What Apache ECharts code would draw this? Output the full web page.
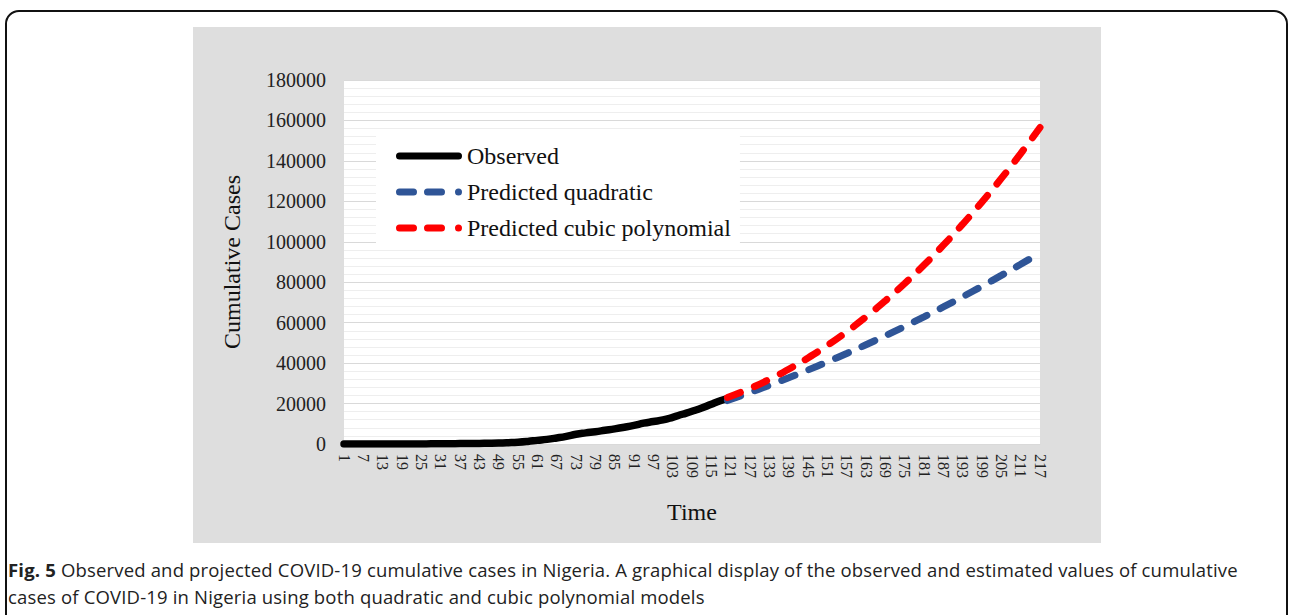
<!DOCTYPE html>
<html>
<head>
<meta charset="utf-8">
<script src="https://cdn.jsdelivr.net/npm/echarts@6/dist/echarts.min.js"></script>
<style>
    html, body { margin: 0; padding: 0; background: #fff; }
    #page { position: relative; width: 1290px; height: 615px; overflow: hidden; }
    .frame { position: absolute; left: 5px; top: 10px; width: 1283px; height: 630px;
        border: 2px solid #111; border-radius: 14px; box-sizing: border-box; }
    .panel { position: absolute; left: 193px; top: 27px; width: 908px; height: 516px; background: #dedede; }
    .caption { position: absolute; left: 8px; top: 556px; width: 1260px;
        font-family: "Open Sans", sans-serif; font-size: 18.5px; letter-spacing: 0.17px;
        line-height: 27px; color: #222; }
    #chart { position: absolute; left: 0; top: 0; width: 1290px; height: 615px; }
</style>
</head>
<body>
<div id="page">
    <div class="frame"></div>
    <div class="panel"></div>
    <div class="caption"><b>Fig. 5</b> Observed and projected COVID-19 cumulative cases in Nigeria. A graphical display of the observed and estimated values of cumulative cases of COVID-19 in Nigeria using both quadratic and cubic polynomial models</div>
    <div id="chart"></div>
</div>
<script>
    // x categories: day 1 .. 217
    var days = [];
    for (var d = 1; d <= 217; d++) {
        days.push(String(d));
    }

    // observed cumulative cases
    var obsDays = [1, 4, 7, 10, 13, 16, 19, 22, 25, 28, 31, 34, 37, 40, 43, 46, 49, 52, 55, 58,
        61, 64, 67, 70, 73, 76, 79, 82, 85, 88, 91, 94, 97, 100, 103, 106, 109, 112, 115, 118, 120];
    var obsCases = [1, 1, 2, 2, 2, 3, 8, 22, 40, 65, 111, 139, 214, 254, 288, 343, 442, 627, 873, 1273,
        1800, 2300, 3000, 3800, 4800, 5500, 6100, 6800, 7500, 8300, 9200, 10300, 11100, 11900, 13200,
        14700, 16200, 17800, 19700, 21500, 22500];

    // projections
    var predDays = [120, 127, 133, 139, 145, 151, 157, 163, 169, 175, 181, 187, 193, 199, 205, 211, 217];
    var quadCases = [21500, 25470, 29040, 32750, 36610, 40620, 44780, 49090, 53540, 58140, 62890,
        67790, 72830, 78030, 83370, 88860, 94500];
    var cubicCases = [23000, 27480, 31940, 36960, 42560, 48740, 55510, 62870, 70820, 79370, 88530,
        98300, 108690, 119700, 131330, 143600, 156500];

    var yMin = 0, yMax = 180000, yStep = 20000;

    function toPairs(ds, vs) {
        var out = [];
        for (var i = 0; i < ds.length; i++) {
            out.push([ds[i] - 1, vs[i]]);
        }
        return out;
    }

    // legend icons (Excel style: solid bar, dash-dash-dot)
    var solidIcon = 'path://M3.5,0 L62.5,0 A3.5,3.5 0 0 1 62.5,7 L3.5,7 A3.5,3.5 0 0 1 3.5,0 Z';
    var dashIcon = 'path://M3.5,0 L17.5,0 A3.5,3.5 0 0 1 17.5,7 L3.5,7 A3.5,3.5 0 0 1 3.5,0 Z ' +
        'M31.5,0 L45.5,0 A3.5,3.5 0 0 1 45.5,7 L31.5,7 A3.5,3.5 0 0 1 31.5,0 Z ' +
        'M62.5,0 A3.5,3.5 0 0 1 62.5,7 A3.5,3.5 0 0 1 62.5,0 Z';

    var serif = '"Liberation Serif", "Times New Roman", serif';
    var myChart = echarts.init(document.getElementById('chart'), null, {renderer: 'svg'});
    var option = {
        animation: false,
        backgroundColor: 'transparent',
        grid: {
            left: 344, top: 80, width: 696, height: 364,
            show: true, backgroundColor: '#fff', borderWidth: 0
        },
        legend: {
            orient: 'vertical',
            left: 376, top: 135,
            padding: [9, 9, 10, 20],
            backgroundColor: '#fff',
            itemWidth: 66, itemHeight: 7, itemGap: 12,
            textStyle: {fontFamily: serif, fontSize: 24, color: '#111', lineHeight: 24},
            data: [
                {name: 'Observed', icon: solidIcon},
                {name: 'Predicted quadratic', icon: dashIcon},
                {name: 'Predicted cubic polynomial', icon: dashIcon}
            ]
        },
        xAxis: {
            type: 'category',
            data: days,
            boundaryGap: false,
            name: 'Time',
            nameLocation: 'middle',
            nameGap: 56,
            nameTextStyle: {fontFamily: serif, fontSize: 24, color: '#111'},
            axisLine: {show: true, lineStyle: {color: '#d9d9d9'}},
            axisTick: {show: false},
            axisLabel: {
                interval: 5, rotate: -90, margin: 10,
                fontFamily: serif, fontSize: 16, color: '#222'
            },
            splitLine: {show: false}
        },
        yAxis: {
            type: 'value',
            min: yMin, max: yMax, interval: yStep,
            name: 'Cumulative Cases',
            nameLocation: 'middle',
            nameRotate: 90,
            nameGap: 100,
            nameTextStyle: {fontFamily: serif, fontSize: 24, color: '#111'},
            axisLine: {show: false},
            axisTick: {show: false},
            axisLabel: {
                margin: 18, fontFamily: serif, fontSize: 20, color: '#222',
                formatter: function (v) { return String(v); }
            },
            splitLine: {lineStyle: {color: '#d9d9d9', width: 1}},
            minorTick: {show: false, splitNumber: 5},
            minorSplitLine: {show: true, lineStyle: {color: '#eeeeee', width: 1}}
        },
        series: [
            {
                name: 'Observed',
                type: 'line',
                data: toPairs(obsDays, obsCases),
                symbol: 'none',
                smooth: true,
                color: '#000',
                lineStyle: {color: '#000', width: 7.5, cap: 'round', join: 'round'}
            },
            {
                name: 'Predicted quadratic',
                type: 'line',
                data: toPairs(predDays, quadCases),
                symbol: 'none',
                smooth: true,
                color: '#2f5597',
                lineStyle: {color: '#2f5597', width: 7, type: [14, 15], cap: 'round'}
            },
            {
                name: 'Predicted cubic polynomial',
                type: 'line',
                data: toPairs(predDays, cubicCases),
                symbol: 'none',
                smooth: true,
                color: '#ff0000',
                lineStyle: {color: '#ff0000', width: 7, type: [14, 15], cap: 'round'}
            }
        ]
    };

    myChart.setOption(option);
</script>
</body>
</html>
